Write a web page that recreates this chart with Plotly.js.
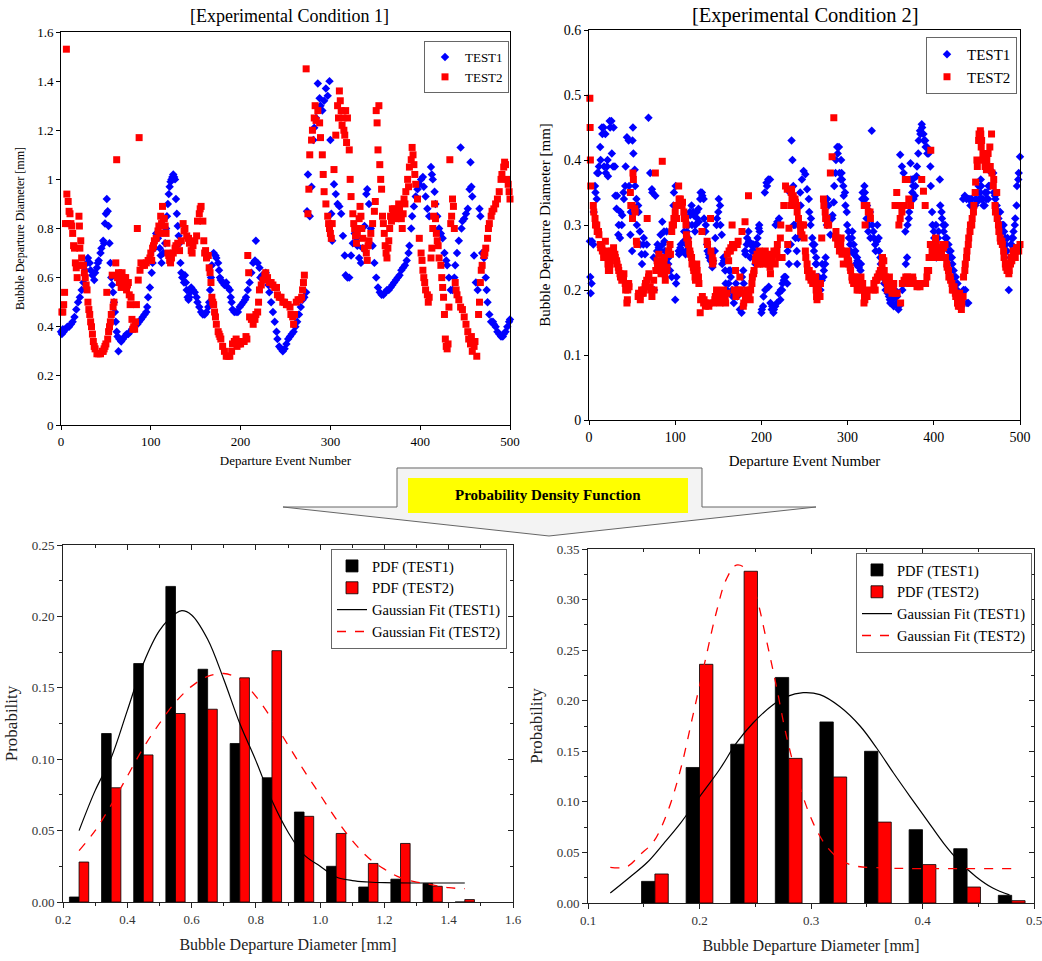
<!DOCTYPE html>
<html><head><meta charset="utf-8">
<script src="https://cdn.plot.ly/plotly-3.0.1.min.js"></script>
<style>html,body{margin:0;padding:0;background:#fff}#chart{width:1042px;height:961px}</style>
</head><body><div id="chart"></div>
<script>
// ---------- DATA ----------
// Condition 1 scatter: [event number, bubble departure diameter mm]
const cond1Test1 = [[0,0.38],[1,0.37],[2,0.39],[3,0.38],[5,0.39],[7,0.40],[9,0.40],[11,0.41],[13,0.42],[15,0.44],[17,0.47],[19,0.50],[21,0.52],[23,0.55],[25,0.58],[27,0.63],[29,0.66],[30,0.68],[32,0.66],[33,0.63],[35,0.61],[37,0.59],[38,0.62],[40,0.64],[41,0.66],[42,0.67],[44,0.70],[45,0.72],[47,0.75],[48,0.74],[49,0.82],[50,0.86],[51,0.92],[52,0.87],[53,0.81],[54,0.74],[55,0.66],[56,0.60],[57,0.57],[58,0.54],[59,0.50],[60,0.46],[61,0.42],[62,0.38],[63,0.36],[64,0.30],[65,0.35],[67,0.34],[69,0.35],[71,0.36],[73,0.37],[75,0.37],[77,0.38],[79,0.39],[81,0.40],[83,0.41],[85,0.41],[87,0.42],[89,0.43],[91,0.44],[93,0.45],[95,0.46],[96,0.48],[97,0.52],[99,0.56],[101,0.62],[102,0.66],[104,0.72],[106,0.78],[108,0.76],[110,0.72],[111,0.69],[112,0.66],[114,0.70],[116,0.74],[117,0.80],[118,0.85],[119,0.90],[120,0.94],[121,0.97],[122,0.99],[123,1.00],[124,1.01],[125,1.02],[126,1.01],[127,1.00],[128,0.92],[129,0.86],[130,0.81],[131,0.77],[132,0.74],[133,0.66],[134,0.62],[135,0.60],[137,0.58],[138,0.61],[139,0.58],[140,0.55],[141,0.52],[142,0.51],[143,0.52],[144,0.54],[145,0.56],[147,0.55],[149,0.54],[151,0.52],[152,0.50],[154,0.48],[156,0.46],[158,0.45],[160,0.45],[162,0.46],[164,0.48],[165,0.50],[166,0.55],[167,0.60],[168,0.65],[170,0.70],[172,0.69],[173,0.68],[175,0.66],[176,0.63],[177,0.60],[178,0.59],[180,0.58],[182,0.57],[184,0.58],[186,0.56],[188,0.55],[189,0.52],[190,0.50],[191,0.47],[193,0.46],[195,0.46],[197,0.46],[199,0.48],[201,0.49],[203,0.50],[205,0.51],[206,0.52],[208,0.55],[210,0.58],[212,0.62],[214,0.66],[216,0.67],[217,0.75],[219,0.66],[221,0.64],[222,0.60],[224,0.61],[226,0.60],[228,0.62],[229,0.60],[231,0.57],[232,0.54],[234,0.50],[236,0.46],[238,0.42],[240,0.38],[241,0.35],[243,0.32],[245,0.31],[247,0.30],[249,0.31],[251,0.33],[253,0.35],[255,0.36],[257,0.37],[259,0.38],[261,0.40],[263,0.42],[265,0.45],[267,0.48],[269,0.51],[271,0.52],[273,0.54],[274,0.87],[275,1.02],[277,0.85],[279,0.97],[281,1.16],[282,1.21],[284,1.25],[286,1.39],[288,1.33],[289,1.30],[291,1.28],[293,1.32],[295,1.37],[297,1.34],[299,1.40],[300,1.16],[301,0.86],[302,0.75],[304,0.98],[306,0.94],[308,0.90],[310,0.89],[312,0.86],[314,0.77],[316,0.69],[317,0.61],[319,0.60],[321,0.60],[323,0.69],[325,0.74],[327,0.78],[329,0.76],[330,0.73],[332,0.68],[334,0.66],[336,0.72],[338,0.81],[340,0.94],[341,0.96],[343,0.90],[345,0.80],[347,0.73],[349,0.66],[351,0.60],[353,0.56],[355,0.54],[357,0.53],[359,0.53],[361,0.54],[363,0.55],[365,0.55],[367,0.56],[369,0.57],[371,0.58],[373,0.59],[375,0.60],[377,0.61],[379,0.63],[381,0.64],[383,0.65],[385,0.67],[387,0.70],[388,0.73],[390,0.80],[391,0.85],[393,0.89],[395,0.93],[397,0.96],[399,0.98],[401,1.00],[403,1.01],[404,0.97],[406,0.93],[408,0.88],[410,0.85],[412,1.05],[413,1.02],[414,1.00],[416,0.95],[417,0.90],[419,0.85],[421,0.80],[423,0.78],[425,0.76],[427,0.70],[429,0.67],[430,0.65],[432,0.60],[434,0.55],[436,0.55],[438,0.60],[439,0.65],[441,0.70],[443,0.75],[445,1.13],[446,0.80],[447,0.83],[449,0.84],[451,0.86],[453,0.88],[455,0.96],[456,1.07],[457,0.97],[458,0.93],[460,0.69],[462,0.58],[464,0.55],[466,0.88],[467,0.85],[469,0.70],[471,0.68],[473,0.60],[474,0.55],[475,0.50],[477,0.45],[479,0.42],[481,0.42],[482,0.41],[484,0.40],[486,0.38],[488,0.37],[490,0.36],[492,0.36],[493,0.37],[495,0.38],[497,0.40],[499,0.42],[500,0.43]];
const cond1Test2 = [[1,0.46],[2,0.46],[3,0.49],[4,0.54],[5,0.82],[6,1.53],[6.5,0.94],[7,0.82],[8,0.91],[9,0.87],[10,0.86],[11,0.82],[12,0.81],[13,0.78],[14,0.73],[15,0.72],[16,0.66],[17,0.64],[18,0.60],[19,0.65],[20,0.85],[20.5,0.81],[21,0.72],[22,0.75],[23,0.68],[24,0.65],[25,0.65],[26,0.62],[27,0.60],[28,0.57],[29,0.55],[30,0.50],[31,0.47],[32,0.45],[33,0.42],[34,0.40],[35,0.37],[36,0.34],[37,0.32],[38,0.31],[40,0.29],[42,0.29],[44,0.29],[46,0.30],[47,0.30],[48,0.31],[49,0.32],[50,0.33],[51,0.54],[52,0.35],[53,0.38],[54,0.40],[55,0.42],[56,0.45],[57,0.61],[58,0.48],[59,0.50],[61,0.66],[62,1.08],[63,0.60],[64,0.62],[65,0.58],[66,0.60],[67,0.56],[68,0.62],[69,0.58],[70,0.60],[71,0.57],[72,0.60],[73,0.55],[74,0.57],[75,0.58],[76,0.53],[77,0.49],[78,0.52],[79,0.43],[80,0.39],[81,0.40],[82,0.39],[83,0.42],[84,0.49],[85,0.80],[86,0.59],[87,1.17],[88,0.63],[89,0.66],[91,0.65],[93,0.65],[95,0.66],[97,0.67],[99,0.68],[100,0.70],[101,0.67],[102,0.72],[103,0.73],[104,0.75],[106,0.76],[108,0.79],[109,0.81],[110,0.78],[111,0.85],[112,0.82],[113,0.89],[114,0.84],[115,0.84],[116,0.81],[117,0.78],[118,0.74],[119,0.70],[120,0.69],[121,0.67],[122,0.66],[123,0.68],[125,0.70],[127,0.72],[128,0.73],[130,0.74],[132,0.71],[134,0.75],[136,0.82],[137,0.79],[138,0.80],[140,0.77],[142,0.76],[143,0.74],[145,0.71],[146,0.70],[147,0.73],[149,0.75],[151,0.77],[152,0.83],[154,0.86],[155,0.88],[156,0.89],[158,0.83],[159,0.75],[160,0.70],[161,0.71],[162,0.68],[164,0.69],[165,0.64],[166,0.62],[167,0.58],[168,0.52],[169,0.50],[170,0.49],[171,0.46],[172,0.44],[173,0.41],[175,0.38],[176,0.37],[177,0.36],[178,0.35],[180,0.32],[182,0.30],[184,0.28],[186,0.28],[188,0.28],[190,0.30],[191,0.33],[193,0.34],[195,0.35],[196,0.32],[198,0.33],[200,0.33],[202,0.34],[204,0.34],[206,0.36],[207,0.35],[208,0.69],[209,0.62],[210,0.44],[212,0.43],[214,0.41],[216,0.43],[217,0.45],[219,0.46],[220,0.50],[221,0.55],[223,0.57],[225,0.59],[227,0.61],[228,0.62],[230,0.60],[232,0.58],[234,0.58],[236,0.57],[238,0.56],[240,0.56],[241,0.53],[243,0.52],[245,0.52],[247,0.50],[249,0.50],[251,0.49],[253,0.49],[255,0.48],[256,0.45],[258,0.44],[259,0.41],[260,0.45],[262,0.50],[264,0.51],[266,0.51],[268,0.52],[269,0.55],[270,0.58],[271,0.61],[273,1.45],[275,0.86],[276,0.96],[277,1.10],[279,1.16],[280,1.20],[282,1.25],[283,1.30],[284,1.24],[286,1.28],[288,1.23],[289,1.17],[291,1.10],[292,1.02],[293,0.95],[295,0.90],[297,0.85],[298,0.82],[299,0.80],[300,0.78],[301,0.76],[302,0.82],[304,1.04],[306,1.18],[308,1.30],[309,1.25],[310,1.36],[311,1.32],[312,1.28],[313,1.22],[314,1.25],[315,1.20],[316,1.18],[317,1.28],[318,1.15],[319,1.25],[321,1.12],[322,1.00],[323,0.93],[325,0.86],[326,0.82],[327,0.80],[328,0.77],[329,0.74],[330,0.78],[331,0.80],[332,0.84],[333,0.89],[334,0.85],[335,0.80],[336,0.76],[338,0.72],[340,0.70],[341,0.67],[342,0.73],[343,0.75],[345,0.78],[347,0.82],[349,0.87],[350,0.91],[351,1.28],[352,1.23],[353,1.12],[354,1.30],[355,1.06],[356,1.00],[357,0.96],[358,0.85],[359,0.82],[360,0.78],[361,0.73],[362,0.70],[363,0.68],[364,0.72],[365,0.75],[366,0.80],[367,0.85],[368,0.83],[369,0.88],[370,0.86],[371,0.88],[373,0.84],[375,0.86],[376,0.90],[377,0.88],[379,0.84],[380,0.80],[381,0.86],[382,0.92],[383,0.90],[384,0.95],[386,1.00],[387,0.97],[388,1.05],[390,1.08],[391,1.13],[392,1.10],[393,1.06],[394,1.02],[395,0.98],[397,0.92],[399,0.76],[401,0.70],[402,0.67],[403,0.63],[404,0.60],[405,0.58],[406,0.55],[408,0.53],[409,0.50],[410,0.52],[412,0.68],[413,0.72],[414,0.80],[415,0.85],[416,0.90],[417,0.84],[418,0.78],[419,0.75],[420,0.73],[421,0.68],[423,0.65],[424,0.60],[425,0.56],[426,0.52],[427,0.45],[428,0.35],[429,0.32],[430,0.31],[431,0.33],[432,0.48],[433,1.08],[434,0.82],[435,0.85],[436,0.92],[437,0.89],[438,0.80],[439,0.58],[440,0.55],[441,0.53],[443,0.51],[445,0.48],[447,0.47],[449,0.44],[451,0.41],[453,0.38],[454,0.35],[456,0.33],[457,0.36],[458,0.30],[460,0.32],[461,0.34],[463,0.28],[465,0.45],[466,0.50],[467,0.58],[468,0.63],[469,0.65],[471,0.69],[472,0.70],[473,0.72],[475,0.76],[476,0.80],[477,0.82],[479,0.85],[480,0.87],[482,0.88],[484,0.90],[486,0.92],[488,0.95],[490,1.00],[491,1.02],[493,1.05],[494,1.07],[495,1.06],[497,1.00],[498,0.98],[499,0.95],[500,0.92]];

// Condition 2 scatter
const cond2Test1 = [[1,0.275],[1.5,0.22],[2,0.195],[3,0.21],[3.5,0.275],[5,0.27],[5.5,0.32],[7,0.36],[7.5,0.35],[9,0.34],[9.5,0.38],[11,0.38],[11.5,0.39],[13,0.42],[13.5,0.40],[15,0.45],[15.5,0.44],[17,0.45],[17.5,0.39],[19,0.44],[19.5,0.38],[21,0.39],[21.5,0.40],[22,0.375],[24,0.46],[24.5,0.45],[26,0.46],[26.5,0.41],[28,0.39],[28.5,0.45],[30,0.39],[30.5,0.345],[32,0.325],[32.5,0.345],[34,0.285],[34.5,0.30],[36,0.28],[36.5,0.32],[38,0.30],[38.5,0.315],[40,0.35],[40.5,0.34],[42,0.36],[42.5,0.39],[44,0.435],[46,0.43],[46.5,0.36],[48,0.285],[48.5,0.32],[50,0.26],[50.5,0.43],[51,0.45],[51.5,0.41],[53,0.385],[53.5,0.36],[55,0.34],[55.5,0.30],[57,0.33],[57.5,0.32],[59,0.29],[59.5,0.27],[61,0.255],[61.5,0.24],[63,0.27],[63.5,0.28],[65,0.255],[67,0.27],[69,0.465],[71,0.38],[73,0.355],[73.5,0.35],[75,0.25],[75.5,0.20],[77,0.345],[79,0.26],[79.5,0.27],[81,0.265],[83,0.285],[83.5,0.26],[85,0.305],[85.5,0.27],[87,0.29],[87.5,0.275],[88,0.26],[90,0.29],[90.5,0.25],[92,0.24],[92.5,0.25],[94,0.23],[96,0.22],[98,0.33],[98.5,0.35],[100,0.185],[100.5,0.36],[101,0.21],[101.5,0.22],[104,0.26],[104.5,0.255],[106,0.265],[106.5,0.27],[108,0.26],[110,0.275],[110.5,0.29],[112,0.255],[112.5,0.26],[113,0.27],[113.5,0.29],[115,0.28],[115.5,0.30],[117,0.32],[117.5,0.315],[119,0.33],[119.5,0.30],[121,0.32],[121.5,0.315],[123,0.29],[123.5,0.30],[125,0.32],[125.5,0.31],[127,0.325],[127.5,0.305],[129,0.34],[129.5,0.35],[131,0.35],[131.5,0.345],[133,0.34],[133.5,0.31],[135,0.29],[135.5,0.30],[137,0.27],[137.5,0.26],[139,0.255],[139.5,0.25],[141,0.245],[141.5,0.25],[143,0.235],[143.5,0.24],[144,0.245],[146,0.26],[146.5,0.28],[148,0.30],[148.5,0.31],[150,0.32],[150.5,0.34],[152,0.33],[152.5,0.30],[154,0.285],[154.5,0.24],[156,0.25],[156.5,0.245],[158,0.23],[158.5,0.21],[160,0.20],[160.5,0.195],[162,0.21],[162.5,0.23],[164,0.23],[164.5,0.22],[166,0.20],[166.5,0.19],[168,0.18],[168.5,0.19],[170,0.20],[170.5,0.21],[172,0.19],[172.5,0.20],[173,0.195],[175,0.17],[177,0.165],[177.5,0.22],[179,0.23],[179.5,0.21],[181,0.26],[181.5,0.255],[183,0.27],[183.5,0.28],[185,0.29],[185.5,0.275],[187,0.25],[187.5,0.27],[189,0.26],[189.5,0.27],[191,0.27],[191.5,0.26],[193,0.24],[193.5,0.27],[195,0.27],[195.5,0.28],[197,0.295],[197.5,0.30],[198,0.29],[200,0.165],[200.5,0.17],[202,0.175],[202.5,0.19],[204,0.35],[204.5,0.20],[206,0.365],[206.5,0.36],[208,0.37],[208.5,0.205],[210,0.37],[210.5,0.18],[212,0.17],[212.5,0.175],[214,0.165],[214.5,0.17],[216,0.175],[216.5,0.30],[218,0.18],[218.5,0.305],[220,0.195],[220.5,0.31],[222,0.185],[222.5,0.20],[224,0.20],[224.5,0.21],[226,0.215],[226.5,0.22],[228,0.22],[230,0.21],[230.5,0.26],[232,0.24],[233,0.35],[234,0.27],[235,0.43],[236,0.40],[237,0.36],[237.5,0.30],[239,0.30],[239.5,0.28],[241,0.26],[241.5,0.24],[243,0.28],[243.5,0.30],[245,0.35],[245.5,0.33],[247,0.37],[249,0.383],[251,0.378],[253,0.355],[255,0.34],[255.5,0.32],[257,0.30],[257.5,0.31],[259,0.28],[259.5,0.27],[261,0.26],[261.5,0.27],[263,0.24],[263.5,0.25],[264,0.24],[264.5,0.22],[266,0.215],[266.5,0.22],[268,0.21],[268.5,0.20],[270,0.215],[270.5,0.24],[272,0.22],[272.5,0.23],[274,0.24],[274.5,0.25],[276,0.30],[276.5,0.34],[278,0.33],[278.5,0.31],[280,0.285],[282,0.31],[282.5,0.315],[284,0.335],[284.5,0.36],[286,0.38],[286.5,0.40],[288,0.42],[288.5,0.41],[290,0.42],[290.5,0.38],[292,0.37],[292.5,0.40],[293,0.38],[293.5,0.37],[295,0.36],[295.5,0.345],[297,0.35],[297.5,0.33],[299,0.32],[299.5,0.30],[301,0.29],[301.5,0.28],[303,0.27],[303.5,0.26],[305,0.28],[305.5,0.29],[307,0.27],[307.5,0.255],[309,0.26],[309.5,0.24],[311,0.25],[311.5,0.245],[313,0.235],[313.5,0.24],[315,0.23],[315.5,0.24],[317,0.34],[317.5,0.35],[319,0.34],[319.5,0.36],[320,0.35],[320.5,0.34],[322,0.31],[322.5,0.33],[324,0.29],[324.5,0.30],[326,0.32],[326.5,0.28],[328,0.445],[328.5,0.30],[330,0.29],[330.5,0.28],[332,0.27],[332.5,0.26],[334,0.275],[334.5,0.30],[336,0.28],[336.5,0.26],[338,0.25],[338.5,0.24],[340,0.23],[340.5,0.22],[342,0.22],[342.5,0.21],[344,0.20],[344.5,0.21],[346,0.20],[346.5,0.195],[348,0.19],[348.5,0.20],[349,0.185],[349.5,0.18],[351,0.18],[351.5,0.185],[353,0.19],[353.5,0.175],[355,0.20],[355.5,0.19],[357,0.18],[357.5,0.19],[359,0.17],[359.5,0.175],[361,0.408],[363,0.39],[363.5,0.20],[365,0.38],[365.5,0.21],[367,0.29],[367.5,0.24],[369,0.25],[369.5,0.30],[371,0.31],[371.5,0.32],[373,0.395],[373.5,0.37],[375,0.35],[375.5,0.37],[376,0.36],[376.5,0.34],[378,0.345],[378.5,0.36],[380,0.375],[380.5,0.39],[382,0.41],[382.5,0.43],[384,0.445],[384.5,0.44],[386,0.455],[386.5,0.45],[388,0.44],[388.5,0.43],[390,0.43],[390.5,0.42],[392,0.42],[392.5,0.41],[394,0.41],[396,0.39],[396.5,0.36],[398,0.32],[398.5,0.30],[400,0.29],[400.5,0.28],[402,0.27],[402.5,0.30],[403,0.25],[403.5,0.26],[405,0.28],[405.5,0.29],[407,0.37],[407.5,0.33],[409,0.32],[409.5,0.31],[411,0.30],[411.5,0.29],[413,0.30],[413.5,0.28],[415,0.28],[415.5,0.27],[417,0.27],[417.5,0.26],[419,0.25],[419.5,0.26],[421,0.25],[421.5,0.24],[423,0.23],[423.5,0.22],[425,0.21],[425.5,0.22],[427,0.20],[427.5,0.21],[428,0.19],[428.5,0.195],[430,0.19],[430.5,0.18],[432,0.175],[432.5,0.185],[434,0.34],[434.5,0.20],[436,0.345],[436.5,0.20],[438,0.34],[438.5,0.18],[440,0.18],[440.5,0.34],[442,0.34],[442.5,0.33],[444,0.34],[444.5,0.33],[446,0.33],[448,0.33],[448.5,0.34],[450,0.335],[450.5,0.35],[452,0.36],[452.5,0.34],[454,0.35],[454.5,0.37],[455,0.36],[455.5,0.34],[457,0.34],[457.5,0.33],[459,0.33],[459.5,0.35],[461,0.34],[461.5,0.35],[463,0.34],[463.5,0.36],[465,0.36],[465.5,0.385],[467,0.38],[469,0.38],[469.5,0.35],[471,0.345],[471.5,0.34],[473,0.33],[473.5,0.32],[475,0.31],[475.5,0.32],[477,0.32],[477.5,0.30],[479,0.29],[479.5,0.30],[481,0.30],[481.5,0.29],[483,0.28],[483.5,0.27],[485,0.26],[485.5,0.28],[487,0.20],[489,0.25],[489.5,0.27],[490,0.27],[490.5,0.28],[492,0.28],[492.5,0.29],[494,0.30],[494.5,0.31],[496,0.33],[496.5,0.36],[498,0.37],[498.5,0.38],[500,0.405]];
const cond2Test2 = [[1,0.495],[1.3,0.45],[1.6,0.40],[2,0.36],[5,0.33],[5.5,0.32],[7,0.31],[7.5,0.30],[9,0.30],[9.5,0.29],[11,0.29],[11.5,0.285],[13,0.27],[13.5,0.265],[15,0.265],[15.5,0.26],[17,0.25],[17.5,0.255],[19,0.275],[19.5,0.26],[21,0.255],[21.5,0.25],[22,0.24],[22.5,0.23],[24,0.23],[24.5,0.24],[26,0.25],[26.5,0.26],[28,0.26],[28.5,0.265],[30,0.255],[30.5,0.25],[32,0.245],[32.5,0.24],[34,0.235],[34.5,0.23],[36,0.225],[36.5,0.22],[38,0.215],[38.5,0.22],[40,0.22],[40.5,0.225],[42,0.21],[42.5,0.20],[44,0.18],[44.5,0.185],[45,0.20],[46,0.21],[46.5,0.205],[48,0.35],[48.5,0.33],[50,0.33],[50.5,0.31],[51,0.38],[51.5,0.37],[53,0.325],[53.5,0.32],[55,0.275],[55.5,0.27],[57,0.19],[57.5,0.195],[59,0.19],[59.5,0.185],[61,0.20],[61.5,0.195],[63,0.195],[63.5,0.20],[65,0.205],[65.5,0.21],[67,0.215],[67.5,0.31],[69,0.22],[69.5,0.225],[71,0.205],[71.5,0.20],[73,0.19],[75,0.215],[75.5,0.20],[77,0.38],[77.5,0.23],[79,0.245],[79.5,0.235],[81,0.255],[81.5,0.24],[83,0.23],[83.5,0.225],[85,0.398],[85.5,0.245],[87,0.24],[87.5,0.25],[88,0.225],[88.5,0.215],[90,0.23],[90.5,0.235],[92,0.255],[92.5,0.26],[94,0.27],[94.5,0.255],[96,0.29],[96.5,0.30],[98,0.30],[98.5,0.31],[100,0.32],[101,0.33],[101.5,0.31],[104,0.36],[104.5,0.34],[106,0.34],[106.5,0.33],[108,0.33],[108.5,0.335],[110,0.32],[110.5,0.31],[112,0.31],[112.5,0.30],[113,0.285],[113.5,0.28],[115,0.275],[115.5,0.27],[117,0.26],[117.5,0.255],[119,0.25],[119.5,0.24],[121,0.235],[121.5,0.23],[123,0.22],[123.5,0.215],[125,0.24],[125.5,0.23],[127,0.22],[127.5,0.21],[129,0.165],[129.5,0.185],[131,0.29],[131.5,0.19],[133,0.18],[133.5,0.185],[135,0.175],[135.5,0.18],[137,0.275],[137.5,0.27],[139,0.175],[139.5,0.18],[141,0.31],[141.5,0.26],[143,0.25],[143.5,0.24],[144,0.245],[144.5,0.18],[146,0.185],[146.5,0.19],[148,0.20],[148.5,0.195],[150,0.19],[150.5,0.185],[152,0.18],[152.5,0.19],[154,0.185],[154.5,0.195],[156,0.20],[156.5,0.19],[158,0.185],[158.5,0.18],[160,0.195],[160.5,0.255],[162,0.245],[162.5,0.26],[164,0.26],[164.5,0.265],[166,0.30],[166.5,0.27],[168,0.265],[168.5,0.20],[170,0.23],[170.5,0.19],[172,0.27],[172.5,0.195],[173,0.275],[173.5,0.20],[175,0.22],[175.5,0.20],[177,0.195],[177.5,0.29],[179,0.175],[179.5,0.18],[181,0.305],[181.5,0.19],[183,0.20],[183.5,0.195],[185,0.345],[185.5,0.19],[187,0.185],[187.5,0.20],[189,0.21],[189.5,0.22],[191,0.225],[191.5,0.23],[193,0.245],[193.5,0.25],[195,0.255],[195.5,0.24],[197,0.25],[197.5,0.26],[198,0.24],[198.5,0.245],[200,0.255],[200.5,0.25],[202,0.245],[202.5,0.24],[204,0.25],[204.5,0.26],[206,0.255],[206.5,0.245],[208,0.24],[208.5,0.25],[210,0.235],[210.5,0.225],[212,0.245],[212.5,0.25],[214,0.255],[214.5,0.26],[216,0.24],[218,0.26],[218.5,0.27],[220,0.25],[222,0.28],[222.5,0.30],[224,0.25],[226,0.33],[228,0.36],[230,0.355],[230.5,0.27],[232,0.295],[234,0.33],[234.5,0.35],[235,0.355],[235.5,0.34],[237,0.345],[237.5,0.33],[239,0.34],[239.5,0.335],[241,0.33],[241.5,0.32],[243,0.31],[245,0.30],[245.5,0.29],[247,0.285],[247.5,0.30],[249,0.30],[249.5,0.28],[251,0.26],[251.5,0.25],[253,0.24],[253.5,0.23],[255,0.22],[255.5,0.23],[257,0.22],[257.5,0.215],[259,0.225],[259.5,0.21],[261,0.21],[261.5,0.215],[263,0.22],[263.5,0.20],[264,0.19],[264.5,0.185],[266,0.20],[266.5,0.195],[268,0.19],[268.5,0.21],[270,0.28],[272,0.34],[272.5,0.33],[274,0.32],[274.5,0.31],[276,0.31],[276.5,0.30],[278,0.30],[280,0.38],[282,0.405],[284,0.465],[286,0.28],[286.5,0.29],[288,0.28],[288.5,0.27],[290,0.27],[290.5,0.26],[292,0.27],[292.5,0.28],[293,0.26],[293.5,0.255],[295,0.24],[299,0.26],[299.5,0.25],[301,0.245],[301.5,0.24],[303,0.235],[303.5,0.23],[305,0.22],[305.5,0.215],[307,0.21],[307.5,0.22],[309,0.22],[309.5,0.21],[311,0.20],[311.5,0.21],[313,0.20],[313.5,0.21],[315,0.21],[315.5,0.22],[317,0.20],[317.5,0.21],[319,0.18],[319.3,0.33],[319.6,0.19],[320,0.185],[320.3,0.30],[320.6,0.19],[322,0.20],[322.3,0.33],[322.6,0.19],[324,0.32],[326,0.32],[326.5,0.31],[330,0.20],[330.5,0.21],[332,0.20],[332.5,0.215],[334,0.215],[334.5,0.22],[336,0.22],[336.5,0.225],[338,0.23],[338.5,0.225],[340,0.24],[340.5,0.25],[342,0.245],[342.5,0.23],[344,0.22],[344.5,0.215],[346,0.21],[346.5,0.20],[348,0.21],[348.5,0.22],[349,0.21],[349.5,0.205],[351,0.20],[351.5,0.195],[353,0.20],[353.5,0.21],[355,0.33],[355.5,0.195],[357,0.35],[357.5,0.195],[359,0.33],[359.5,0.30],[361,0.31],[361.5,0.18],[363,0.32],[363.5,0.21],[365,0.33],[365.5,0.215],[367,0.37],[367.5,0.22],[369,0.37],[369.5,0.22],[371,0.34],[371.5,0.21],[373,0.33],[373.5,0.21],[375,0.215],[375.5,0.22],[376,0.215],[376.5,0.21],[378,0.21],[380,0.21],[380.5,0.205],[382,0.21],[384,0.205],[384.5,0.21],[386,0.37],[388,0.352],[388.5,0.21],[390,0.33],[390.5,0.21],[392,0.22],[392.5,0.23],[394,0.23],[394.5,0.25],[396,0.27],[396.5,0.415],[398,0.26],[398.5,0.25],[400,0.27],[400.5,0.26],[402,0.28],[402.5,0.26],[403,0.27],[403.5,0.26],[405,0.25],[405.5,0.26],[407,0.255],[407.5,0.25],[409,0.26],[409.5,0.265],[411,0.27],[411.5,0.265],[413,0.27],[413.5,0.25],[415,0.24],[415.5,0.235],[417,0.23],[417.5,0.22],[419,0.22],[419.5,0.215],[421,0.21],[421.5,0.20],[423,0.20],[423.5,0.205],[425,0.195],[425.5,0.19],[427,0.19],[427.5,0.18],[428,0.18],[428.5,0.175],[430,0.195],[430.5,0.175],[432,0.17],[432.5,0.18],[434,0.19],[434.5,0.22],[436,0.23],[436.5,0.24],[438,0.25],[438.5,0.26],[440,0.27],[440.5,0.28],[442,0.29],[442.5,0.30],[444,0.30],[444.5,0.31],[446,0.32],[446.5,0.33],[448,0.35],[448.5,0.366],[450,0.40],[450.5,0.39],[452,0.43],[452.5,0.44],[454,0.445],[454.5,0.44],[455,0.42],[455.5,0.43],[457,0.41],[457.5,0.40],[459,0.40],[459.5,0.39],[461,0.385],[461.5,0.40],[463,0.41],[463.5,0.39],[465,0.42],[465.5,0.39],[467,0.44],[467.5,0.38],[469,0.36],[469.5,0.37],[471,0.33],[471.5,0.32],[473,0.35],[473.5,0.31],[475,0.30],[475.5,0.29],[477,0.28],[477.5,0.275],[479,0.275],[479.5,0.27],[481,0.26],[481.5,0.25],[483,0.24],[483.5,0.235],[485,0.23],[485.5,0.24],[487,0.225],[487.5,0.23],[489,0.24],[489.5,0.245],[490,0.25],[490.5,0.245],[492,0.26],[492.5,0.255],[494,0.26],[494.5,0.25],[496,0.265],[496.5,0.26],[498,0.265],[498.5,0.26],[500,0.27]];

// Condition 1 PDF histogram
const bins1 = [0.25,0.35,0.45,0.55,0.65,0.75,0.85,0.95,1.05,1.15,1.25,1.35,1.45];
const pdf1Test1 = [0.0035,0.118,0.167,0.221,0.163,0.111,0.087,0.063,0.025,0.0105,0.016,0.013,0];
const pdf1Test2 = [0.028,0.080,0.103,0.132,0.135,0.157,0.176,0.060,0.048,0.027,0.041,0.011,0.0017];
const fit1Test1X = [0.25,0.30,0.35,0.40,0.45,0.50,0.55,0.57,0.60,0.65,0.70,0.75,0.80,0.85,0.90,0.95,1.00,1.05,1.10,1.15,1.20,1.30,1.45];
const fit1Test1Y = [0.050,0.078,0.101,0.134,0.167,0.190,0.202,0.204,0.201,0.184,0.156,0.125,0.099,0.071,0.049,0.033,0.025,0.0175,0.015,0.014,0.0135,0.0133,0.0133];
const fit1Test2X = [0.25,0.30,0.35,0.40,0.45,0.50,0.55,0.60,0.65,0.70,0.75,0.80,0.85,0.90,0.95,1.00,1.05,1.10,1.15,1.20,1.25,1.30,1.35,1.40,1.45];
const fit1Test2Y = [0.036,0.050,0.068,0.088,0.108,0.125,0.140,0.151,0.158,0.160,0.156,0.144,0.128,0.110,0.092,0.075,0.058,0.043,0.031,0.023,0.017,0.014,0.012,0.010,0.0094];

// Condition 2 PDF histogram
const bins2 = [0.16,0.20,0.24,0.28,0.32,0.36,0.40,0.44,0.48];
const pdf2Test1 = [0.0214,0.134,0.157,0.223,0.179,0.150,0.0725,0.0537,0.0076];
const pdf2Test2 = [0.0287,0.236,0.328,0.143,0.1246,0.080,0.038,0.0158,0.0023];
const fit2Test1X = [0.12,0.138,0.153,0.168,0.183,0.20,0.218,0.233,0.248,0.266,0.278,0.293,0.308,0.326,0.344,0.359,0.374,0.389,0.404,0.419,0.433,0.448,0.463,0.478];
const fit2Test1Y = [0.0099,0.026,0.040,0.059,0.079,0.105,0.132,0.158,0.178,0.196,0.204,0.208,0.206,0.194,0.175,0.153,0.1285,0.105,0.082,0.059,0.041,0.026,0.0148,0.008];
const fit2Test2X = [0.12,0.135,0.147,0.159,0.171,0.183,0.194,0.206,0.215,0.224,0.233,0.242,0.251,0.26,0.269,0.278,0.29,0.302,0.314,0.326,0.338,0.368,0.397,0.48];
const fit2Test2Y = [0.0353,0.036,0.048,0.061,0.089,0.132,0.185,0.244,0.287,0.32,0.334,0.33,0.303,0.26,0.214,0.165,0.115,0.079,0.056,0.043,0.037,0.0346,0.034,0.034];

// Text
const titleCond1 = '[Experimental Condition 1]';
const titleCond2 = '[Experimental Condition 2]';
const bannerText = 'Probability Density Function';

// ---------- LAYOUT HELPERS ----------
const W = 1042, H = 961;
const SERIF = '"Liberation Serif", "Times New Roman", Times, serif';
const dx = (a, b) => [a / W, b / W];
const dy = (top, bottom) => [1 - bottom / H, 1 - top / H];
const px = x => x / W, py = y => 1 - y / H;
const P = (x, y) => px(x).toFixed(5) + ',' + py(y).toFixed(5);

const BLUE = '#0000FF', RED = '#FF0000';

const traces = [
  {x: cond1Test1.map(p => p[0]), y: cond1Test1.map(p => p[1]), type: 'scatter', mode: 'markers', name: 'TEST1',
   xaxis: 'x', yaxis: 'y', legend: 'legend', cliponaxis: false,
   marker: {symbol: 'diamond', size: 6.5, color: BLUE}},
  {x: cond1Test2.map(p => p[0]), y: cond1Test2.map(p => p[1]), type: 'scatter', mode: 'markers', name: 'TEST2',
   xaxis: 'x', yaxis: 'y', legend: 'legend', cliponaxis: false,
   marker: {symbol: 'square', size: 7, color: RED}},
  {x: cond2Test1.map(p => p[0]), y: cond2Test1.map(p => p[1]), type: 'scatter', mode: 'markers', name: 'TEST1',
   xaxis: 'x2', yaxis: 'y2', legend: 'legend2', cliponaxis: false,
   marker: {symbol: 'diamond', size: 6.5, color: BLUE}},
  {x: cond2Test2.map(p => p[0]), y: cond2Test2.map(p => p[1]), type: 'scatter', mode: 'markers', name: 'TEST2',
   xaxis: 'x2', yaxis: 'y2', legend: 'legend2', cliponaxis: false,
   marker: {symbol: 'square', size: 7, color: RED}},

  {x: bins1, y: pdf1Test1, type: 'bar', name: 'PDF (TEST1)', xaxis: 'x3', yaxis: 'y3', legend: 'legend3',
   marker: {color: '#000000', line: {color: '#000', width: 0.8}}},
  {x: bins1, y: pdf1Test2, type: 'bar', name: 'PDF (TEST2)', xaxis: 'x3', yaxis: 'y3', legend: 'legend3',
   marker: {color: RED, line: {color: '#000', width: 0.8}}},
  {x: fit1Test1X, y: fit1Test1Y, type: 'scatter', mode: 'lines', name: 'Gaussian Fit (TEST1)', xaxis: 'x3', yaxis: 'y3',
   legend: 'legend3', line: {color: '#000', width: 1.2, shape: 'spline'}},
  {x: fit1Test2X, y: fit1Test2Y, type: 'scatter', mode: 'lines', name: 'Gaussian Fit (TEST2)', xaxis: 'x3', yaxis: 'y3',
   legend: 'legend3', line: {color: RED, width: 1.3, dash: 'dash', shape: 'spline'}},

  {x: bins2, y: pdf2Test1, type: 'bar', name: 'PDF (TEST1)', xaxis: 'x4', yaxis: 'y4', legend: 'legend4',
   marker: {color: '#000000', line: {color: '#000', width: 0.8}}},
  {x: bins2, y: pdf2Test2, type: 'bar', name: 'PDF (TEST2)', xaxis: 'x4', yaxis: 'y4', legend: 'legend4',
   marker: {color: RED, line: {color: '#000', width: 0.8}}},
  {x: fit2Test1X, y: fit2Test1Y, type: 'scatter', mode: 'lines', name: 'Gaussian Fit (TEST1)', xaxis: 'x4', yaxis: 'y4',
   legend: 'legend4', line: {color: '#000', width: 1.2, shape: 'spline'}},
  {x: fit2Test2X, y: fit2Test2Y, type: 'scatter', mode: 'lines', name: 'Gaussian Fit (TEST2)', xaxis: 'x4', yaxis: 'y4',
   legend: 'legend4', line: {color: RED, width: 1.3, dash: 'dash', shape: 'spline'}},

  // empty traces carrying the inward-tick frame axes (top / right) of the PDF panels
  {x: [], y: [], type: 'scatter', mode: 'markers', xaxis: 'x5', yaxis: 'y5', showlegend: false, hoverinfo: 'skip'},
  {x: [], y: [], type: 'scatter', mode: 'markers', xaxis: 'x6', yaxis: 'y6', showlegend: false, hoverinfo: 'skip'}
];

function topAxis(dom, range, dtick, tickSize, title, titleSize, anchor, standoff) {
  return {domain: dom, range: range, dtick: dtick, tick0: 0, anchor: anchor,
    ticks: 'outside', ticklen: 4, tickcolor: '#000', showline: true, linecolor: '#000', linewidth: 1,
    mirror: true, showgrid: false, zeroline: false,
    tickfont: {family: SERIF, size: tickSize, color: '#000'},
    title: {text: title, font: {family: SERIF, size: titleSize, color: '#000'}, standoff: standoff}};
}
function pdfAxis(dom, range, dtick, tick0, fmt, minor, title, titleSize, anchor, standoff) {
  return {domain: dom, range: range, dtick: dtick, tick0: tick0, tickformat: fmt, anchor: anchor,
    ticks: 'outside', ticklen: 5, tickcolor: '#222', showline: true, linecolor: '#222', linewidth: 1,
    mirror: true, showgrid: false, zeroline: false, ticklabeloverflow: 'allow',
    minor: {dtick: minor, tick0: tick0, ticks: 'outside', ticklen: 3, tickcolor: '#222', showgrid: false},
    tickfont: {family: SERIF, size: 13, color: '#333'},
    title: {text: title, font: {family: SERIF, size: titleSize, color: '#222'}, standoff: standoff}};
}
function frameAxis(over, side, anchor, range, dtick, tick0, minor) {
  return {overlaying: over, side: side, anchor: anchor, range: range, dtick: dtick, tick0: tick0,
    ticks: 'inside', ticklen: 5, tickcolor: '#222', showticklabels: false, showline: false,
    showgrid: false, zeroline: false,
    minor: {dtick: minor, tick0: tick0, ticks: 'inside', ticklen: 3, tickcolor: '#222', showgrid: false}};
}

const legendBase = (x, y, size) => ({x: px(x), y: py(y), xanchor: 'left', yanchor: 'top',
  bgcolor: '#fff', bordercolor: '#666', borderwidth: 1, tracegroupgap: 0,
  font: {family: SERIF, size: size, color: '#000'}});

const arrowPath = 'M' + P(283, 507) + 'L' + P(397, 507) + 'L' + P(397, 468) + 'L' + P(702, 468) +
  'L' + P(702, 507) + 'L' + P(816, 507) + 'L' + P(549, 536) + 'Z';

const layout = {
  width: W, height: H, margin: {l: 0, r: 0, t: 0, b: 0}, paper_bgcolor: '#fff', plot_bgcolor: '#fff',
  showlegend: true, barmode: 'group', bargap: 0.4, bargroupgap: 0,
  font: {family: SERIF, color: '#000'},
  xaxis: topAxis(dx(61, 510), [0, 500], 100, 13, 'Departure Event Number', 13, 'y', 8),
  yaxis: topAxis(dy(32, 425), [0, 1.6], 0.2, 13, 'Bubble Departure Diameter [mm]', 12, 'x', 9),
  xaxis2: topAxis(dx(589, 1020), [0, 500], 100, 14, 'Departure Event Number', 15, 'y2', 11),
  yaxis2: topAxis(dy(30, 420), [0, 0.6], 0.1, 14, 'Bubble Departure Diameter [mm]', 15, 'x2', 9),
  xaxis3: pdfAxis(dx(63, 513), [0.2, 1.6], 0.2, 0.2, '.1f', 0.1, 'Bubble Departure Diameter [mm]', 16, 'y3', 13),
  yaxis3: pdfAxis(dy(545, 902), [0, 0.25], 0.05, 0, '.2f', 0.025, 'Probability', 17, 'x3', 9),
  xaxis4: pdfAxis(dx(588, 1034), [0.1, 0.5], 0.1, 0.1, '.1f', 0.05, 'Bubble Departure Diameter [mm]', 16, 'y4', 13),
  yaxis4: pdfAxis(dy(549, 903), [0, 0.35], 0.05, 0, '.2f', 0.025, 'Probability', 17, 'x4', 9),
  xaxis5: frameAxis('x3', 'top', 'y3', [0.2, 1.6], 0.2, 0.2, 0.1),
  yaxis5: frameAxis('y3', 'right', 'x3', [0, 0.25], 0.05, 0, 0.025),
  xaxis6: frameAxis('x4', 'top', 'y4', [0.1, 0.5], 0.1, 0.1, 0.05),
  yaxis6: frameAxis('y4', 'right', 'x4', [0, 0.35], 0.05, 0, 0.025),
  legend: legendBase(424, 41, 13),
  legend2: legendBase(926, 37, 15),
  legend3: legendBase(331, 549, 14.5),
  legend4: legendBase(856, 553, 14.5),
  shapes: [
    {type: 'path', xref: 'paper', yref: 'paper', path: arrowPath, fillcolor: '#f3f3f3',
     line: {color: '#666', width: 1}},
    {type: 'rect', xref: 'paper', yref: 'paper', x0: px(408), x1: px(688), y0: py(513), y1: py(478),
     fillcolor: '#FFFF00', line: {width: 0}}
  ],
  annotations: [
    {text: titleCond1, xref: 'paper', yref: 'paper', x: px(289), y: py(16), showarrow: false,
     xanchor: 'center', yanchor: 'middle', font: {family: SERIF, size: 18, color: '#000'}},
    {text: titleCond2, xref: 'paper', yref: 'paper', x: px(805), y: py(16), showarrow: false,
     xanchor: 'center', yanchor: 'middle', font: {family: SERIF, size: 20.5, color: '#000'}},
    {text: '<b>' + bannerText + '</b>', xref: 'paper', yref: 'paper', x: px(548), y: py(495), showarrow: false,
     xanchor: 'center', yanchor: 'middle', font: {family: SERIF, size: 15, color: '#000'}}
  ]
};

Plotly.newPlot('chart', traces, layout, {displayModeBar: false, staticPlot: true});
</script>
</body></html>
